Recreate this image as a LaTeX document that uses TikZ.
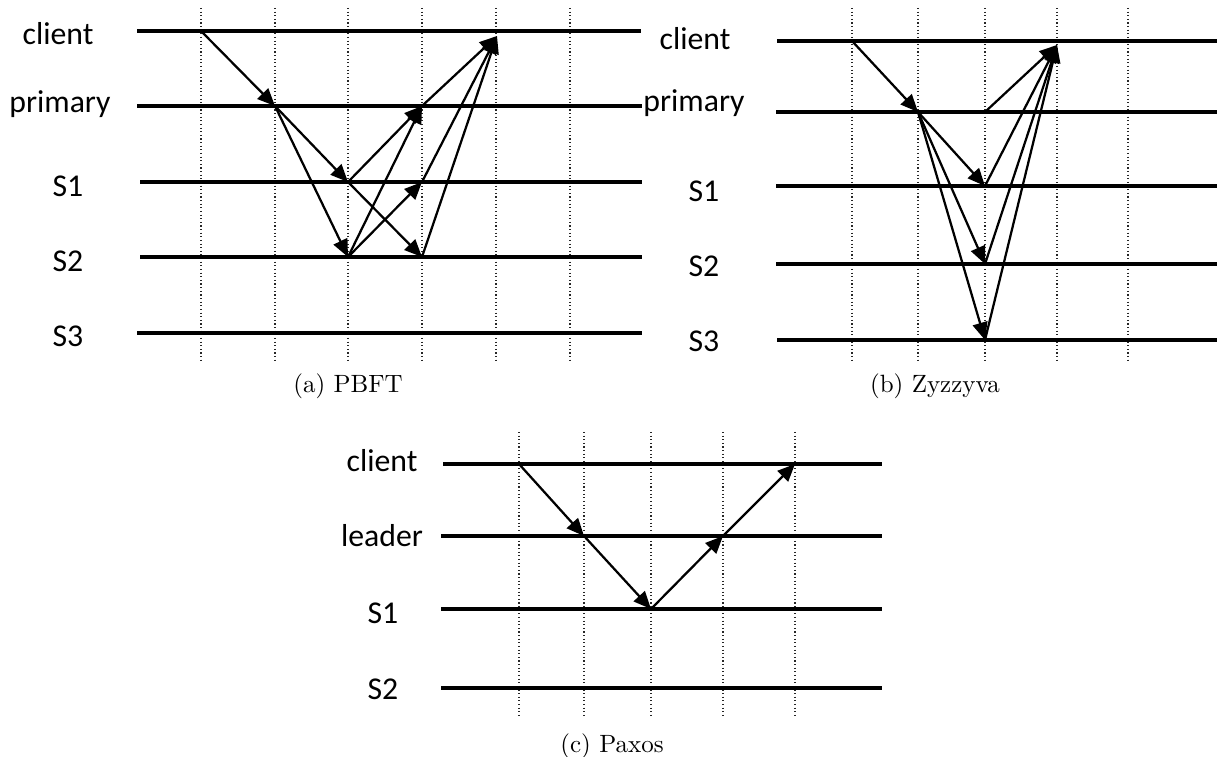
\documentclass[tikz,border=0pt]{standalone}
\usepackage{fontspec}
\newfontfamily\lanefont{Carlito}
\usetikzlibrary{arrows.meta,calc}
\tikzstyle{lane}=[-, line width=1.25pt]
\tikzstyle{gridline}=[-, densely dotted, line width=0.45pt, black!85]
\tikzstyle{msg}=[-{Triangle[length=7pt,width=6pt]}, line width=0.9pt]
\tikzstyle{lbl}=[anchor=base, inner sep=0pt, font=\lanefont\fontsize{12.7}{15}\selectfont]
\tikzstyle{captxt}=[anchor=base, inner sep=0pt, font=\normalsize]

\begin{document}
\begin{tikzpicture}[x=0.4pt, y=-0.4pt]
    \useasboundingbox (0,0) rectangle (1217,757);

%%%% (a) PBFT
    \foreach \x [count=\i] in {201,275,348,422,496,570}{
        \coordinate (a\i) at (\x,8);
        \draw[gridline] (a\i) -- (\x,360);
    }
    \node (laclient) [lbl] at (58,45) {client};
    \node (laprimary) [lbl] at (60,113) {primary};
    \node (las1) [lbl] at (68,197) {S1};
    \node (las2) [lbl] at (68,272) {S2};
    \node (las3) [lbl] at (68,347) {S3};
    \coordinate (aclient) at (137,31);   \draw[lane] (aclient) -- (641,31);
    \coordinate (aprimary) at (137,106); \draw[lane] (aprimary) -- (642,106);
    \coordinate (as1) at (140,182);      \draw[lane] (as1) -- (642,182);
    \coordinate (as2) at (140,257);      \draw[lane] (as2) -- (642,257);
    \coordinate (as3) at (137,333);      \draw[lane] (as3) -- (642,333);
    \coordinate (areply) at (497,36);

    \draw[msg] (a1 |- aclient) -- (a2 |- aprimary);
    \draw[msg] (a2 |- aprimary) -- (a3 |- as1);
    \draw[msg] (a2 |- aprimary) -- (a3 |- as2);
    \draw[msg] (a3 |- as1) -- (a4 |- aprimary);
    \draw[msg] (a3 |- as1) -- (a4 |- as2);
    \draw[msg] (a3 |- as2) -- (a4 |- aprimary);
    \draw[msg] (a3 |- as2) -- (a4 |- as1);
    \draw[msg] (a4 |- aprimary) -- (areply);
    \draw[msg] (a4 |- as1) -- (areply);
    \draw[msg] (a4 |- as2) -- (areply);
    \node (capa) [captxt] at (348,393) {(a) PBFT};

%%%% (b) Zyzzyva
    \foreach \x [count=\i] in {852,918,985,1057,1128}{
        \coordinate (b\i) at (\x,8);
        \draw[gridline] (b\i) -- (\x,360);
    }
    \node (lbclient) [lbl] at (695,50) {client};
    \node (lbprimary) [lbl] at (694,112) {primary};
    \node (lbs1) [lbl] at (704,202) {S1};
    \node (lbs2) [lbl] at (704,277) {S2};
    \node (lbs3) [lbl] at (704,352) {S3};
    \coordinate (bclient) at (777,41);   \draw[lane] (bclient) -- (1217,41);
    \coordinate (bprimary) at (776,112); \draw[lane] (bprimary) -- (1217,112);
    \coordinate (bs1) at (776,186);      \draw[lane] (bs1) -- (1217,186);
    \coordinate (bs2) at (776,264);      \draw[lane] (bs2) -- (1217,264);
    \coordinate (bs3) at (777,340);      \draw[lane] (bs3) -- (1217,340);
    \coordinate (breply) at (1057,45);

    \draw[msg] (b1 |- bclient) -- (b2 |- bprimary);
    \draw[msg] (b2 |- bprimary) -- (b3 |- bs1);
    \draw[msg] (b2 |- bprimary) -- (b3 |- bs2);
    \draw[msg] (b2 |- bprimary) -- (b3 |- bs3);
    \draw[msg] (b3 |- bprimary) -- (breply);
    \draw[msg] (b3 |- bs1) -- (breply);
    \draw[msg] (b3 |- bs2) -- (breply);
    \draw[msg] (b3 |- bs3) -- (breply);
    \node (capb) [captxt] at (935,393) {(b) Zyzzyva};

%%%% (c) Paxos
    \foreach \x [count=\i] in {519,584,651,723,795}{
        \coordinate (c\i) at (\x,432);
        \draw[gridline] (c\i) -- (\x,717);
    }
    \node (lcclient) [lbl] at (382,472) {client};
    \node (lcleader) [lbl] at (382,546) {leader};
    \node (lcs1) [lbl] at (383,623) {S1};
    \node (lcs2) [lbl] at (383,699) {S2};
    \coordinate (cclient) at (443,464); \draw[lane] (cclient) -- (882,464);
    \coordinate (cleader) at (441,536); \draw[lane] (cleader) -- (882,536);
    \coordinate (cs1) at (441,609);     \draw[lane] (cs1) -- (882,609);
    \coordinate (cs2) at (441,688);     \draw[lane] (cs2) -- (882,688);

    \draw[msg] (c1 |- cclient) -- (c2 |- cleader);
    \draw[msg] (c2 |- cleader) -- (c3 |- cs1);
    \draw[msg] (c3 |- cs1) -- (c4 |- cleader);
    \draw[msg] (c4 |- cleader) -- (c5 |- cclient);
    \node (capc) [captxt] at (612,752) {(c) Paxos};

\end{tikzpicture}
\end{document}
